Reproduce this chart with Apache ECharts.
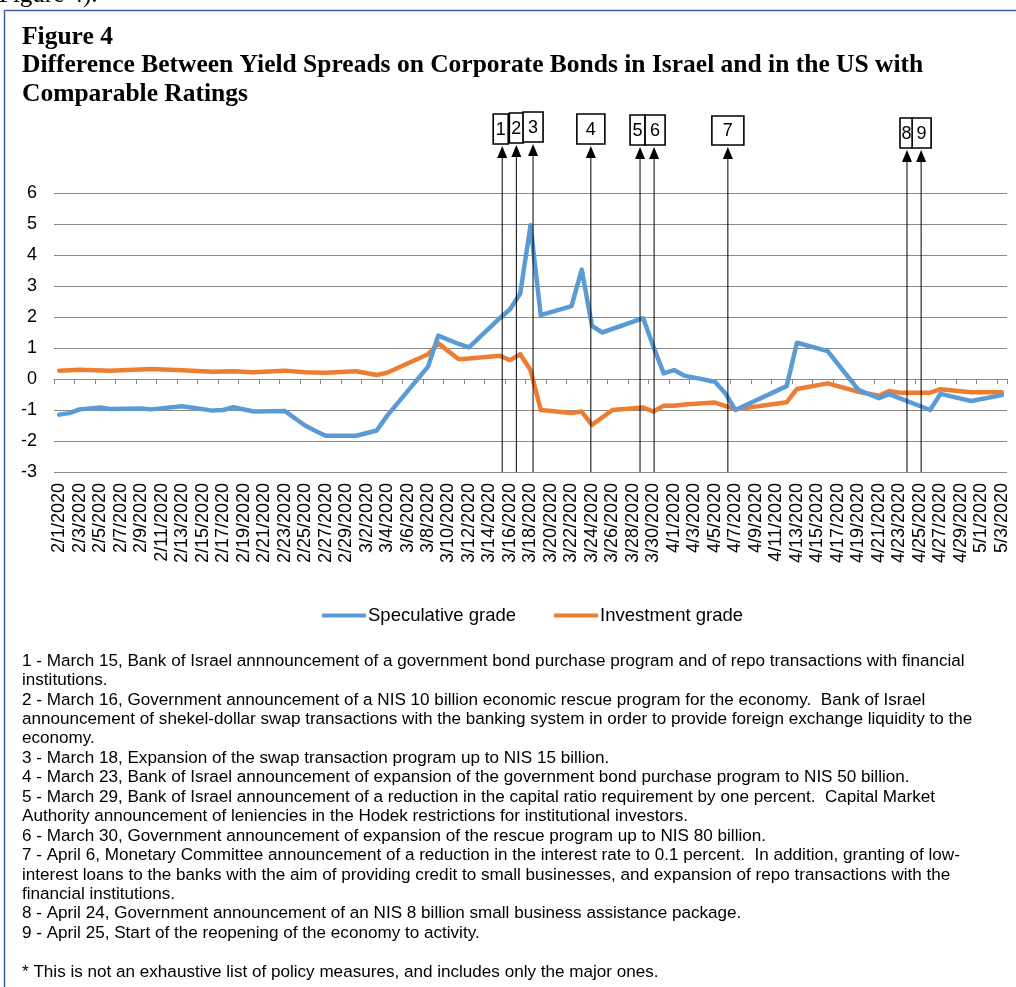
<!DOCTYPE html>
<html>
<head>
<meta charset="utf-8">
<script src="https://cdn.jsdelivr.net/npm/echarts@6/dist/echarts.min.js"></script>
<style>
html,body{margin:0;padding:0;background:#fff;}
#chart{width:1016px;height:987px;}
</style>
</head>
<body>
<div id="chart"></div>
<script>
// ---------- data ----------
// daily category axis, 2/1/2020 .. 5/3/2020
const categories = (function () {
  const out = [];
  const d = new Date(Date.UTC(2020, 1, 1));
  const end = new Date(Date.UTC(2020, 4, 3));
  while (d <= end) {
    out.push((d.getUTCMonth() + 1) + '/' + d.getUTCDate() + '/' + d.getUTCFullYear());
    d.setUTCDate(d.getUTCDate() + 1);
  }
  return out;
})();

const yTicks = { min: -3, max: 6, interval: 1 };

const specDates = ['2/1/2020','2/2/2020','2/3/2020','2/5/2020','2/6/2020','2/9/2020','2/10/2020','2/13/2020','2/16/2020','2/17/2020','2/18/2020','2/20/2020','2/23/2020','2/25/2020','2/26/2020','2/27/2020','3/1/2020','3/3/2020','3/4/2020','3/8/2020','3/9/2020','3/11/2020','3/12/2020','3/15/2020','3/16/2020','3/17/2020','3/18/2020','3/19/2020','3/22/2020','3/23/2020','3/24/2020','3/25/2020','3/29/2020','3/30/2020','3/31/2020','4/1/2020','4/2/2020','4/5/2020','4/6/2020','4/7/2020','4/12/2020','4/13/2020','4/16/2020','4/19/2020','4/21/2020','4/22/2020','4/26/2020','4/27/2020','4/30/2020','5/3/2020'];
const specValues = [-1.15,-1.10,-0.98,-0.92,-0.97,-0.95,-0.98,-0.88,-1.02,-1.00,-0.91,-1.05,-1.03,-1.50,-1.67,-1.83,-1.83,-1.66,-1.19,0.40,1.40,1.13,1.02,1.96,2.25,2.76,4.96,2.06,2.35,3.53,1.71,1.50,1.96,1.04,0.18,0.29,0.11,-0.09,-0.46,-1.00,-0.23,1.17,0.90,-0.35,-0.62,-0.49,-1.00,-0.48,-0.71,-0.52];

const invDates = ['2/1/2020','2/3/2020','2/6/2020','2/10/2020','2/13/2020','2/16/2020','2/18/2020','2/20/2020','2/23/2020','2/25/2020','2/27/2020','3/1/2020','3/3/2020','3/4/2020','3/8/2020','3/9/2020','3/11/2020','3/12/2020','3/15/2020','3/16/2020','3/17/2020','3/18/2020','3/19/2020','3/22/2020','3/23/2020','3/24/2020','3/26/2020','3/29/2020','3/30/2020','3/31/2020','4/1/2020','4/2/2020','4/5/2020','4/6/2020','4/7/2020','4/12/2020','4/13/2020','4/16/2020','4/19/2020','4/21/2020','4/22/2020','4/23/2020','4/26/2020','4/27/2020','4/30/2020','5/3/2020'];
const invValues = [0.27,0.30,0.27,0.32,0.28,0.23,0.25,0.22,0.27,0.22,0.20,0.25,0.13,0.20,0.80,1.15,0.64,0.66,0.75,0.61,0.80,0.29,-1.00,-1.10,-1.05,-1.48,-1.00,-0.92,-1.05,-0.86,-0.86,-0.82,-0.76,-0.87,-0.98,-0.75,-0.32,-0.14,-0.41,-0.54,-0.39,-0.44,-0.44,-0.33,-0.43,-0.43];

// event markers: label and position in days after 2/1/2020 (as drawn in the picture)
const eventLabels = ['1','2','3','4','5','6','7','8','9'];
const eventDays = [43.24, 44.62, 46.25, 51.89, 56.69, 58.06, 65.26, 82.74, 84.12];

const seriesNames = ['Speculative grade', 'Investment grade'];

const titleLines = ['Figure 4', 'Difference Between Yield Spreads on Corporate Bonds in Israel and in the US with', 'Comparable Ratings'];

const notes = [
  '1 - March 15, Bank of Israel annnouncement of a government bond purchase program and of repo transactions with financial',
  'institutions.',
  '2 - March 16, Government announcement of a NIS 10 billion economic rescue program for the economy.  Bank of Israel',
  'announcement of shekel-dollar swap transactions with the banking system in order to provide foreign exchange liquidity to the',
  'economy.',
  '3 - March 18, Expansion of the swap transaction program up to NIS 15 billion.',
  '4 - March 23, Bank of Israel announcement of expansion of the government bond purchase program to NIS 50 billion.',
  '5 - March 29, Bank of Israel announcement of a reduction in the capital ratio requirement by one percent.  Capital Market',
  'Authority announcement of leniencies in the Hodek restrictions for institutional investors.',
  '6 - March 30, Government announcement of expansion of the rescue program up to NIS 80 billion.',
  '7 - April 6, Monetary Committee announcement of a reduction in the interest rate to 0.1 percent.  In addition, granting of low-',
  'interest loans to the banks with the aim of providing credit to small businesses, and expansion of repo transactions with the',
  'financial institutions.',
  '8 - April 24, Government announcement of an NIS 8 billion small business assistance package.',
  '9 - April 25, Start of the reopening of the economy to activity.',
  '',
  '* This is not an exhaustive list of policy measures, and includes only the major ones.'
];

// ---------- styles ----------
const SANS = '"Liberation Sans", Arial, sans-serif';
const SERIF = '"Liberation Serif", "Times New Roman", serif';
const GRID_GRAY = '#888888';
// box geometry for each marker: [left offset, right offset, top y, bottom y]
const boxStyle = [
  [-9, 6, 114, 144], [-7, 7, 113, 143], [-10, 10, 112, 142],
  [-14, 14, 114, 144], [-10, 5, 115, 145], [-9, 11, 115, 145],
  [-16, 16, 116, 145], [-7, 6, 118, 148], [-9, 10, 118, 148]
];

const chart = echarts.init(document.getElementById('chart'), null, { renderer: 'canvas' });

const option = {
  animation: false,
  backgroundColor: '#fff',
  grid: { left: 54, right: 9, top: 193, bottom: 515, containLabel: false },
  legend: {
    data: seriesNames,
    left: 322, top: 606, padding: 0,
    icon: 'rect', itemWidth: 44, itemHeight: 4, itemGap: 38,
    textStyle: { fontFamily: SANS, fontSize: 18.5, color: '#000', padding: [0, 0, 0, -3] }
  },
  xAxis: [
    {
      type: 'category', data: categories, boundaryGap: true, position: 'bottom',
      axisLine: { show: false, onZero: false }, axisTick: { show: false },
      splitLine: { show: false },
      axisLabel: { interval: 1, rotate: 90, margin: 11, fontFamily: SANS, fontSize: 18, color: '#000', hideOverlap: false }
    },
    {
      type: 'category', data: categories, boundaryGap: true, position: 'bottom',
      axisLine: { show: true, onZero: true, lineStyle: { color: GRID_GRAY, width: 1 } },
      axisTick: { show: true, interval: 1, length: 5, lineStyle: { color: GRID_GRAY, width: 1 } },
      axisLabel: { show: false }, splitLine: { show: false }
    },
    {
      type: 'value', min: -0.5, max: categories.length - 0.5, show: false,
      axisLine: { onZero: false }, splitLine: { show: false }
    }
  ],
  yAxis: {
    type: 'value', min: yTicks.min, max: yTicks.max, interval: yTicks.interval,
    axisLine: { show: false }, axisTick: { show: false },
    splitLine: { show: true, lineStyle: { color: GRID_GRAY, width: 1 } },
    axisLabel: { margin: 17, fontFamily: SANS, fontSize: 18, color: '#000' }
  },
  series: [
    {
      name: seriesNames[0], type: 'line', xAxisIndex: 0,
      data: specDates.map((d, i) => [d, specValues[i]]),
      symbol: 'none', color: '#5B9BD5',
      lineStyle: { color: '#5B9BD5', width: 4.5, cap: 'round', join: 'round' },
      z: 3
    },
    {
      name: seriesNames[1], type: 'line', xAxisIndex: 0,
      data: invDates.map((d, i) => [d, invValues[i]]),
      symbol: 'none', color: '#ED7D31',
      lineStyle: { color: '#ED7D31', width: 4.5, cap: 'round', join: 'round' },
      z: 2
    },
    {
      name: 'events', type: 'custom', xAxisIndex: 2, clip: false, z: 5,
      data: eventDays.map(d => [d, yTicks.min]),
      renderItem: function (params, api) {
        const i = params.dataIndex;
        const p = api.coord([api.value(0), api.value(1)]);
        const x = p[0], yb = p[1];
        const b = boxStyle[i];
        const tipY = b[3] + 2;
        return {
          type: 'group',
          children: [
            { type: 'line', shape: { x1: x, y1: tipY + 10, x2: x, y2: yb }, style: { stroke: '#000', lineWidth: 1 } },
            { type: 'polygon', shape: { points: [[x, tipY], [x - 5, tipY + 12], [x + 5, tipY + 12]] }, style: { fill: '#000' } },
            { type: 'rect', shape: { x: x + b[0], y: b[2], width: b[1] - b[0], height: b[3] - b[2] }, style: { fill: '#fff', stroke: '#000', lineWidth: 1.6 } },
            { type: 'text', style: { text: eventLabels[i], x: x + (b[0] + b[1]) / 2, y: (b[2] + b[3]) / 2 + 1, align: 'center', verticalAlign: 'middle', font: '18px ' + SANS, fill: '#000' } }
          ]
        };
      }
    }
  ],
  graphic: [
    { type: 'rect', shape: { x: 4.5, y: 10.5, width: 1200, height: 1200 }, style: { fill: 'none', stroke: '#3F5F9F', lineWidth: 1.5 }, z: 0 },
    { type: 'text', left: -1, top: -17, style: { text: 'Figure 4).', font: '25px ' + SERIF, fill: '#000' } },
    { type: 'text', x: 22, y: 37, style: { text: titleLines[0], font: 'bold 25.5px ' + SERIF, fill: '#000', verticalAlign: 'middle' } },
    { type: 'text', x: 22, y: 65, style: { text: titleLines[1], font: 'bold 25.5px ' + SERIF, fill: '#000', verticalAlign: 'middle' } },
    { type: 'text', x: 22, y: 94, style: { text: titleLines[2], font: 'bold 25.5px ' + SERIF, fill: '#000', verticalAlign: 'middle' } },
    { type: 'text', x: 22, y: 651.3, style: { text: notes.join('\n'), font: '17.1px ' + SANS, lineHeight: 19.44, fill: '#000', verticalAlign: 'top' } }
  ]
};
chart.setOption(option);
</script>
</body>
</html>
